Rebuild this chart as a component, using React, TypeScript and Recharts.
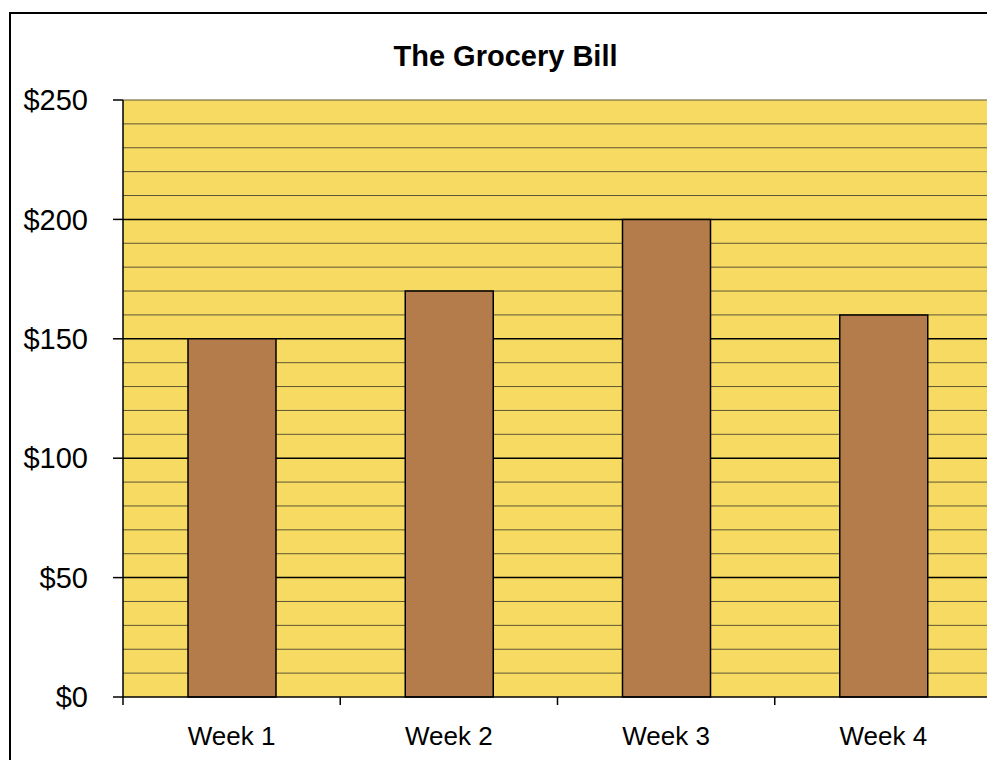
import { Bar, BarChart, CartesianGrid, XAxis, YAxis } from "recharts";

const weeks = ["Week 1", "Week 2", "Week 3", "Week 4"];
const bill = [150, 170, 200, 160];
const majorTicks = [0, 50, 100, 150, 200, 250];
const innerMajorTicks = [50, 100, 150, 200];
const minorTicks = [10, 20, 30, 40, 60, 70, 80, 90, 110, 120, 130, 140, 160, 170, 180, 190, 210, 220, 230, 240, 250];
const edgeTicks = [0, 1, 2, 3, 4];

const data = weeks.map((week, i) => ({ week, bill: bill[i] }));

const FONT = "'Liberation Sans', Arial, sans-serif";

export default function App() {
  return (
    <div style={{ position: "relative", width: 987, height: 760, overflow: "hidden", background: "#fff" }}>
      <style>{"body{margin:0;overflow:hidden}"}</style>
      <div
        style={{
          position: "absolute",
          left: 9,
          top: 12,
          width: 1100,
          height: 900,
          border: "2px solid #000",
          boxSizing: "border-box",
        }}
      />
      <div
        style={{
          position: "absolute",
          left: 0,
          width: 1011,
          top: 38,
          textAlign: "center",
          fontFamily: FONT,
          fontWeight: "bold",
          fontSize: 29,
          lineHeight: "36px",
        }}
      >
        The Grocery Bill
      </div>
      <div style={{ position: "absolute", left: 0, top: 0 }}>
        <BarChart
          width={1000}
          height={780}
          data={data}
          margin={{ top: 100, right: 8, left: 0, bottom: 23 }}
        >
          <CartesianGrid
            vertical={false}
            fill="#F7DA62"
            fillOpacity={1}
            stroke="#5c5636"
            strokeWidth={1}
            horizontalValues={minorTicks}
          />
          <CartesianGrid
            vertical={false}
            stroke="#000"
            strokeWidth={1.5}
            horizontalValues={innerMajorTicks}
          />
          <XAxis
            xAxisId={0}
            type="number"
            dataKey={() => 0}
            domain={[0, 4]}
            ticks={edgeTicks}
            height={10}
            tickSize={8}
            tickFormatter={() => ""}
            stroke="#000"
            tickLine={{ stroke: "#000", strokeWidth: 1.5 }}
            axisLine={{ stroke: "#000", strokeWidth: 1.5 }}
          />
          <XAxis
            xAxisId={1}
            dataKey="week"
            height={50}
            tickLine={false}
            axisLine={false}
            tickSize={0}
            tickMargin={20}
            tick={{ fill: "#000", fontSize: 26, fontFamily: FONT }}
          />
          <YAxis
            domain={[0, 250]}
            ticks={majorTicks}
            width={123}
            tickSize={10}
            tickMargin={25}
            tickFormatter={(v) => `$${v}`}
            tick={{ fill: "#000", fontSize: 29, fontFamily: FONT }}
            tickLine={{ stroke: "#000", strokeWidth: 1.5 }}
            axisLine={{ stroke: "#000", strokeWidth: 1.5 }}
          />
          <Bar
            xAxisId={1}
            dataKey="bill"
            barSize={88}
            fill="#B37C4A"
            stroke="#000"
            strokeWidth={1.5}
            isAnimationActive={false}
          />
        </BarChart>
      </div>
    </div>
  );
}
